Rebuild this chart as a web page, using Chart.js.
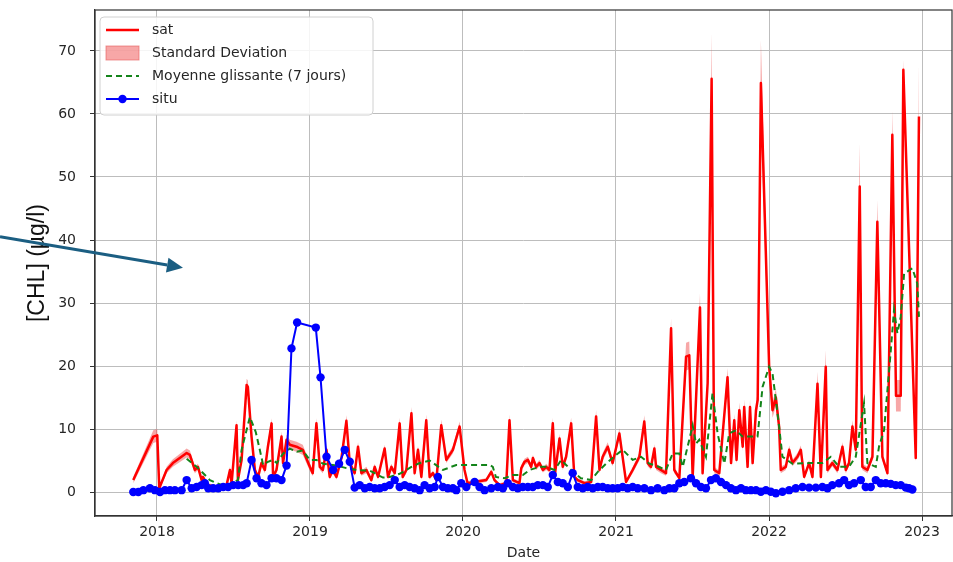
<!DOCTYPE html>
<html lang="fr">
<head>
<meta charset="UTF-8">
<title>[CHL] sat / situ</title>
<script src="https://cdn.jsdelivr.net/npm/chart.js"></script>
<style>
  body { margin: 0; background: #ffffff; }
  canvas { display: block; }
</style>
</head>
<body>
<canvas id="chlChart" width="953" height="562"></canvas>
<script>
  // dates en années décimales, valeurs en µg/l
  const satDates = [
    2017.845, 2017.976, 2018.002, 2018.015, 2018.063, 2018.104, 2018.194, 2018.215, 2018.248, 2018.268,
    2018.292, 2018.300, 2018.333, 2018.390, 2018.455, 2018.477, 2018.488, 2018.520, 2018.529, 2018.553,
    2018.586, 2018.594, 2018.618, 2018.640, 2018.661, 2018.683, 2018.705, 2018.725, 2018.749, 2018.759,
    2018.781, 2018.814, 2018.824, 2018.847, 2018.868, 2018.912, 2018.953, 2018.999, 2019.018, 2019.042,
    2019.064, 2019.084, 2019.108, 2019.129, 2019.149, 2019.173, 2019.206, 2019.238, 2019.260, 2019.292,
    2019.314, 2019.336, 2019.369, 2019.401, 2019.423, 2019.445, 2019.488, 2019.510, 2019.532, 2019.554,
    2019.586, 2019.606, 2019.630, 2019.663, 2019.684, 2019.706, 2019.728, 2019.760, 2019.782, 2019.804,
    2019.826, 2019.858, 2019.891, 2019.934, 2019.978, 2020.010, 2020.030, 2020.152, 2020.185, 2020.206,
    2020.239, 2020.283, 2020.304, 2020.326, 2020.369, 2020.381, 2020.402, 2020.424, 2020.446, 2020.457,
    2020.478, 2020.500, 2020.522, 2020.544, 2020.565, 2020.587, 2020.602, 2020.631, 2020.652, 2020.674,
    2020.707, 2020.728, 2020.750, 2020.794, 2020.838, 2020.870, 2020.892, 2020.913, 2020.946, 2020.978,
    2021.022, 2021.055, 2021.066, 2021.109, 2021.153, 2021.185, 2021.207, 2021.229, 2021.251, 2021.262,
    2021.294, 2021.327, 2021.360, 2021.381, 2021.414, 2021.458, 2021.479, 2021.501, 2021.549, 2021.566,
    2021.599, 2021.625, 2021.642, 2021.675, 2021.729, 2021.752, 2021.773, 2021.788, 2021.806, 2021.828,
    2021.838, 2021.860, 2021.876, 2021.893, 2021.915, 2021.926, 2021.947, 2022.001, 2022.023, 2022.045,
    2022.066, 2022.077, 2022.110, 2022.132, 2022.153, 2022.186, 2022.208, 2022.230, 2022.262, 2022.284,
    2022.317, 2022.339, 2022.371, 2022.382, 2022.414, 2022.447, 2022.480, 2022.502, 2022.523, 2022.545,
    2022.567, 2022.593, 2022.610, 2022.643, 2022.676, 2022.708, 2022.741, 2022.774, 2022.806, 2022.830,
    2022.861, 2022.878, 2022.959, 2022.980
  ];
  const satValues = [
    1.9, 8.8, 9.0, 0.6, 3.5, 4.6, 6.2, 5.9, 3.5, 4.0,
    1.9, 2.4, 1.1, 0.8, 1.1, 3.5, 1.4, 10.6, 1.9, 5.1,
    17.0, 16.7, 8.8, 3.5, 2.4, 4.6, 3.5, 7.2, 10.9, 2.4,
    3.5, 8.8, 4.6, 8.3, 7.5, 7.2, 6.7, 4.0, 3.0, 10.9,
    4.0, 3.5, 6.7, 2.4, 3.5, 2.4, 5.4, 11.3, 4.6, 3.0,
    7.2, 3.0, 3.5, 1.9, 4.0, 2.4, 6.9, 2.4, 4.0, 3.0,
    10.9, 2.4, 3.5, 12.5, 3.0, 6.7, 2.4, 11.4, 2.4, 3.0,
    1.9, 10.6, 5.1, 6.7, 10.4, 3.5, 1.4, 1.9, 3.2, 1.9,
    1.1, 1.4, 11.4, 1.9, 1.4, 3.8, 4.8, 5.1, 4.0, 5.4,
    4.0, 4.6, 3.5, 4.0, 3.5, 10.9, 3.0, 8.5, 4.0, 5.6,
    10.9, 2.4, 1.9, 1.4, 1.6, 12.0, 3.5, 5.6, 7.2, 4.6,
    9.3, 3.5, 1.6, 3.5, 5.6, 11.2, 4.6, 4.0, 6.9, 4.0,
    3.5, 3.0, 26.0, 3.5, 2.2, 21.5, 21.7, 2.4, 29.3, 3.0,
    17.3, 65.6, 3.5, 3.0, 18.2, 4.6, 11.4, 5.1, 13.0, 7.2,
    13.5, 4.0, 13.5, 4.6, 13.0, 14.6, 64.9, 19.9, 13.0, 15.0,
    10.4, 3.5, 4.0, 6.7, 4.6, 5.6, 6.7, 2.4, 4.6, 2.4,
    17.2, 2.4, 19.9, 3.5, 4.6, 3.5, 7.2, 3.5, 4.6, 10.4,
    6.7, 48.5, 4.0, 3.5, 5.6, 42.9, 5.6, 3.0, 56.7, 15.3,
    15.3, 67.0, 5.4, 59.6
  ];
  const satStd = [
    0.5, 1.0, 1.0, 0.3, 0.5, 0.6, 0.7, 0.7, 0.5, 0.5,
    0.4, 0.4, 0.3, 0.3, 0.3, 0.5, 0.3, 0.8, 0.3, 0.6,
    1.0, 1.0, 0.8, 0.5, 0.4, 0.5, 0.5, 0.7, 0.8, 0.4,
    0.5, 0.8, 0.5, 0.8, 0.8, 0.8, 0.8, 0.6, 0.5, 0.8,
    0.5, 0.5, 0.7, 0.4, 0.5, 0.4, 0.6, 0.9, 0.5, 0.4,
    0.7, 0.4, 0.5, 0.3, 0.5, 0.4, 0.6, 0.4, 0.5, 0.4,
    0.9, 0.4, 0.5, 1.0, 0.4, 0.6, 0.4, 0.9, 0.4, 0.4,
    0.3, 0.9, 0.5, 0.6, 0.8, 0.5, 0.3, 0.3, 0.4, 0.3,
    0.3, 0.3, 0.9, 0.3, 0.3, 0.5, 0.5, 0.5, 0.5, 0.5,
    0.5, 0.5, 0.4, 0.5, 0.4, 0.9, 0.4, 0.7, 0.5, 0.6,
    0.9, 0.4, 0.3, 0.3, 0.3, 1.0, 0.5, 0.6, 0.7, 0.5,
    0.8, 0.5, 0.3, 0.5, 0.6, 1.0, 0.5, 0.5, 0.7, 0.5,
    0.5, 0.4, 1.6, 0.5, 0.3, 2.2, 2.2, 0.4, 2.2, 0.4,
    1.5, 7.2, 0.5, 0.4, 1.5, 0.5, 1.0, 0.6, 1.2, 0.7,
    1.2, 0.5, 1.2, 0.5, 1.2, 1.3, 6.8, 2.0, 1.2, 1.4,
    1.0, 0.5, 0.5, 0.7, 0.5, 0.6, 0.7, 0.4, 0.5, 0.4,
    1.9, 0.4, 2.6, 0.5, 0.5, 0.5, 0.7, 0.5, 0.5, 1.0,
    0.7, 6.8, 0.5, 0.5, 0.6, 3.4, 0.6, 0.4, 3.9, 2.5,
    2.5, 1.6, 0.6, 8.4
  ];

  // moyenne glissante 7 jours
  const maDates = [
    2018.194, 2018.259, 2018.281, 2018.346, 2018.390, 2018.450, 2018.529, 2018.553, 2018.607, 2018.646,
    2018.672, 2018.694, 2018.725, 2018.759, 2018.783, 2018.824, 2018.868, 2018.914, 2018.953, 2018.999,
    2019.042, 2019.086, 2019.173, 2019.238, 2019.304, 2019.390, 2019.477, 2019.521, 2019.586, 2019.663,
    2019.717, 2019.782, 2019.869, 2019.956, 2020.065, 2020.174, 2020.195, 2020.215, 2020.272, 2020.326,
    2020.391, 2020.435, 2020.500, 2020.544, 2020.598, 2020.642, 2020.674, 2020.728, 2020.771, 2020.838,
    2020.881, 2020.935, 2021.001, 2021.044, 2021.109, 2021.164, 2021.218, 2021.262, 2021.327, 2021.370,
    2021.414, 2021.436, 2021.479, 2021.501, 2021.523, 2021.544, 2021.588, 2021.631, 2021.664, 2021.708,
    2021.740, 2021.784, 2021.827, 2021.892, 2021.925, 2021.958, 2022.001, 2022.023, 2022.045, 2022.066,
    2022.088, 2022.153, 2022.262, 2022.349, 2022.404, 2022.458, 2022.523, 2022.567, 2022.621, 2022.643,
    2022.698, 2022.719, 2022.752, 2022.774, 2022.796, 2022.817, 2022.839, 2022.861, 2022.883, 2022.937,
    2022.969, 2022.980
  ];
  const maValues = [
    5.3, 4.0, 3.5, 1.9, 1.4, 0.9, 1.9, 6.7, 11.9, 9.5,
    6.7, 4.3, 4.8, 5.1, 4.6, 6.1, 6.9, 6.4, 6.6, 5.1,
    5.1, 4.5, 4.2, 3.8, 3.5, 3.4, 2.3, 2.4, 2.9, 4.0,
    4.6, 5.0, 3.5, 4.3, 4.3, 4.3, 4.0, 2.4, 2.2, 2.7,
    2.7, 3.5, 4.0, 4.0, 3.5, 5.1, 4.3, 3.0, 2.2, 1.9,
    3.2, 4.5, 5.9, 6.7, 5.1, 5.6, 4.5, 4.2, 3.5, 6.1,
    6.1, 4.0, 8.3, 10.6, 7.7, 8.3, 5.6, 15.7, 9.3, 4.5,
    9.3, 9.8, 8.8, 8.8, 8.8, 16.7, 19.9, 18.8, 14.6, 10.4,
    5.6, 4.5, 4.6, 4.6, 5.6, 4.0, 4.0, 5.6, 14.1, 4.6,
    4.0, 7.2, 9.8, 16.2, 22.5, 28.9, 25.2, 27.8, 34.7, 35.5,
    33.1, 27.8
  ];

  // mesures in situ
  const situDates = [
    2017.845, 2017.878, 2017.911, 2017.954, 2017.987, 2018.020, 2018.052, 2018.085, 2018.117, 2018.161,
    2018.194, 2018.227, 2018.259, 2018.292, 2018.313, 2018.335, 2018.367, 2018.400, 2018.433, 2018.465,
    2018.498, 2018.531, 2018.563, 2018.586, 2018.618, 2018.651, 2018.683, 2018.716, 2018.749, 2018.781,
    2018.814, 2018.847, 2018.879, 2018.916, 2019.038, 2019.069, 2019.108, 2019.151, 2019.190, 2019.227,
    2019.260, 2019.292, 2019.325, 2019.358, 2019.390, 2019.423, 2019.456, 2019.488, 2019.521, 2019.554,
    2019.586, 2019.619, 2019.651, 2019.684, 2019.717, 2019.749, 2019.782, 2019.815, 2019.836, 2019.869,
    2019.901, 2019.934, 2019.956, 2019.989, 2020.022, 2020.076, 2020.108, 2020.141, 2020.185, 2020.228,
    2020.261, 2020.293, 2020.326, 2020.358, 2020.391, 2020.424, 2020.456, 2020.489, 2020.522, 2020.554,
    2020.587, 2020.620, 2020.652, 2020.685, 2020.717, 2020.750, 2020.783, 2020.815, 2020.848, 2020.881,
    2020.913, 2020.946, 2020.978, 2021.011, 2021.044, 2021.076, 2021.109, 2021.142, 2021.185, 2021.229,
    2021.272, 2021.316, 2021.349, 2021.381, 2021.414, 2021.446, 2021.490, 2021.523, 2021.555, 2021.588,
    2021.621, 2021.653, 2021.686, 2021.719, 2021.751, 2021.784, 2021.817, 2021.849, 2021.882, 2021.915,
    2021.947, 2021.980, 2022.012, 2022.045, 2022.088, 2022.132, 2022.175, 2022.219, 2022.262, 2022.306,
    2022.349, 2022.382, 2022.414, 2022.458, 2022.491, 2022.523, 2022.556, 2022.600, 2022.632, 2022.665,
    2022.698, 2022.730, 2022.763, 2022.796, 2022.828, 2022.861, 2022.894, 2022.915, 2022.937
  ];
  const situValues = [
    0.0, 0.0, 0.3, 0.6, 0.3, 0.0, 0.3, 0.3, 0.3, 0.3,
    1.9, 0.6, 0.8, 1.1, 1.4, 0.6, 0.6, 0.6, 0.8, 0.8,
    1.1, 1.1, 1.1, 1.4, 5.1, 2.2, 1.4, 1.1, 2.2, 2.2,
    1.9, 4.2, 22.8, 26.9, 26.1, 18.2, 5.6, 3.5, 4.5, 6.7,
    4.8, 0.7, 1.1, 0.6, 0.8, 0.6, 0.6, 0.8, 1.1, 1.9,
    0.8, 1.1, 0.8, 0.6, 0.3, 1.1, 0.6, 0.8, 2.4, 0.8,
    0.6, 0.6, 0.3, 1.4, 0.8, 1.6, 0.8, 0.3, 0.6, 0.8,
    0.6, 1.4, 0.8, 0.6, 0.8, 0.8, 0.8, 1.1, 1.1, 0.8,
    2.7, 1.6, 1.4, 0.8, 3.0, 0.8, 0.6, 0.8, 0.6, 0.8,
    0.8, 0.6, 0.6, 0.6, 0.8, 0.6, 0.8, 0.6, 0.6, 0.3,
    0.6, 0.3, 0.6, 0.6, 1.4, 1.6, 2.2, 1.4, 0.8, 0.6,
    1.9, 2.2, 1.6, 1.1, 0.6, 0.3, 0.6, 0.3, 0.3, 0.3,
    0.05, 0.3, 0.05, -0.2, 0.05, 0.3, 0.6, 0.8, 0.7, 0.7,
    0.8, 0.6, 1.1, 1.4, 1.9, 1.1, 1.4, 1.9, 0.8, 0.8,
    1.9, 1.4, 1.4, 1.3, 1.1, 1.1, 0.7, 0.6, 0.4
  ];

  const xTicks = [2018, 2019, 2020, 2021, 2022, 2023];
  const yTicks = [0, 10, 20, 30, 40, 50, 60, 70];
  const legendLabels = ['sat', 'Standard Deviation', 'Moyenne glissante (7 jours)', 'situ'];

  // flèche d'annotation (pointe en coordonnées des données)
  const arrowTip = [2018.17, 35.6];
  const arrowTailValue = 40.5;

  const RED = '#ff0000';
  const BAND = 'rgba(240, 80, 80, 0.5)';
  const GREEN = '#14841a';
  const BLUE = '#0000ff';

  const pts = (xs, ys) => xs.map((x, i) => ({ x: x, y: ys[i] }));
  const bandUp = satDates.map((x, i) => ({ x: x, y: satValues[i] + satStd[i] }));
  const bandLow = satDates.map((x, i) => ({ x: x, y: satValues[i] - satStd[i] }));

  const cadre = {
    id: 'cadre',
    afterDraw(chart) {
      const ctx = chart.ctx;
      const a = chart.chartArea;
      const xs = chart.scales.x, ys = chart.scales.y;
      ctx.save();
      // bordure du graphique
      ctx.strokeStyle = '#333333';
      ctx.lineWidth = 1.2;
      ctx.strokeRect(a.left, a.top, a.right - a.left, a.bottom - a.top);

      // légende
      const lx = a.left + 5, ly = a.top + 7, lw = 273, lh = 98;
      ctx.beginPath();
      ctx.roundRect(lx, ly, lw, lh, 4);
      ctx.fillStyle = 'rgba(255,255,255,0.85)';
      ctx.fill();
      ctx.strokeStyle = '#d0d0d0';
      ctx.lineWidth = 1;
      ctx.stroke();
      ctx.font = '14px "DejaVu Sans"';
      ctx.textBaseline = 'middle';
      legendLabels.forEach((lab, i) => {
        const ry = ly + 13 + i * 23;
        const h0 = lx + 6, h1 = lx + 39;
        if (i === 0) {
          ctx.strokeStyle = RED; ctx.lineWidth = 2.5; ctx.setLineDash([]);
          ctx.beginPath(); ctx.moveTo(h0, ry); ctx.lineTo(h1, ry); ctx.stroke();
        } else if (i === 1) {
          ctx.fillStyle = BAND; ctx.fillRect(h0, ry - 7, h1 - h0, 14);
          ctx.strokeStyle = 'rgba(230,90,90,0.6)'; ctx.lineWidth = 1;
          ctx.strokeRect(h0, ry - 7, h1 - h0, 14);
        } else if (i === 2) {
          ctx.strokeStyle = GREEN; ctx.lineWidth = 2; ctx.setLineDash([6, 4]);
          ctx.beginPath(); ctx.moveTo(h0, ry); ctx.lineTo(h1, ry); ctx.stroke();
          ctx.setLineDash([]);
        } else {
          ctx.strokeStyle = BLUE; ctx.lineWidth = 2;
          ctx.beginPath(); ctx.moveTo(h0, ry); ctx.lineTo(h1, ry); ctx.stroke();
          ctx.fillStyle = BLUE;
          ctx.beginPath(); ctx.arc((h0 + h1) / 2, ry, 4.2, 0, Math.PI * 2); ctx.fill();
        }
        ctx.fillStyle = '#262626';
        ctx.fillText(lab, lx + 52, ry);
      });

      // flèche
      const tx = xs.getPixelForValue(arrowTip[0]), ty = ys.getPixelForValue(arrowTip[1]);
      const sx = 0, sy = ys.getPixelForValue(arrowTailValue);
      const ang = Math.atan2(ty - sy, tx - sx);
      const hl = 16, hw = 7.5;
      const bx = tx - hl * Math.cos(ang), by = ty - hl * Math.sin(ang);
      ctx.strokeStyle = '#1b5e82';
      ctx.fillStyle = '#1b5e82';
      ctx.lineWidth = 3;
      ctx.beginPath(); ctx.moveTo(sx, sy); ctx.lineTo(bx, by); ctx.stroke();
      ctx.beginPath();
      ctx.moveTo(tx, ty);
      ctx.lineTo(bx + hw * Math.sin(ang), by - hw * Math.cos(ang));
      ctx.lineTo(bx - hw * Math.sin(ang), by + hw * Math.cos(ang));
      ctx.closePath(); ctx.fill();
      ctx.restore();
    }
  };

  new Chart(document.getElementById('chlChart'), {
    type: 'line',
    data: {
      datasets: [
        {
          label: 'situ', data: pts(situDates, situValues),
          borderColor: BLUE, backgroundColor: BLUE, borderWidth: 2,
          pointRadius: 4.2, pointBorderWidth: 0, pointBackgroundColor: BLUE, fill: false
        },
        {
          label: 'Moyenne glissante (7 jours)', data: pts(maDates, maValues),
          borderColor: GREEN, borderWidth: 2, borderDash: [6, 4], pointRadius: 0, fill: false
        },
        {
          label: 'sat', data: pts(satDates, satValues),
          borderColor: RED, borderWidth: 2.5, borderJoinStyle: 'round', pointRadius: 0, fill: false
        },
        {
          label: 'Standard Deviation', data: bandUp,
          borderWidth: 0, pointRadius: 0, backgroundColor: BAND, fill: '+1'
        },
        {
          label: 'std-', data: bandLow,
          borderWidth: 0, pointRadius: 0, fill: false
        }
      ]
    },
    options: {
      responsive: false,
      animation: false,
      devicePixelRatio: 1,
      layout: { autoPadding: false, padding: { left: 0, right: 1, top: 10, bottom: 0 } },
      plugins: { legend: { display: false }, tooltip: { enabled: false } },
      scales: {
        x: {
          type: 'linear', min: 2017.595, max: 2023.196,
          afterBuildTicks: s => { s.ticks = xTicks.map(v => ({ value: v })); },
          afterFit: s => { s.height = 46; s.paddingLeft = 0; s.paddingRight = 0; },
          ticks: { color: '#262626', padding: 3, font: { family: 'DejaVu Sans', size: 14 }, callback: v => String(v), maxRotation: 0 },
          grid: { color: '#bdbdbd', lineWidth: 1, tickLength: 5, tickColor: '#333333' },
          border: { color: '#333333', width: 1.2 },
          title: { display: true, text: 'Date', color: '#262626', font: { family: 'DejaVu Sans', size: 14 }, padding: { top: 4, bottom: 0 } }
        },
        y: {
          min: -3.8, max: 76.5,
          afterBuildTicks: s => { s.ticks = yTicks.map(v => ({ value: v })); },
          afterFit: s => { s.width = 95; s.paddingTop = 0; s.paddingBottom = 0; },
          ticks: { color: '#262626', padding: 14, font: { family: 'DejaVu Sans', size: 14 }, callback: v => String(v) },
          grid: { color: '#bdbdbd', lineWidth: 1, tickLength: 5, tickColor: '#333333' },
          border: { color: '#333333', width: 1.2 },
          title: { display: true, text: '[CHL] (µg/l)', color: '#111111', font: { family: 'Liberation Sans', size: 23 }, padding: { top: 24, bottom: 0 } }
        }
      }
    },
    plugins: [cadre]
  });
</script>
</body>
</html>
